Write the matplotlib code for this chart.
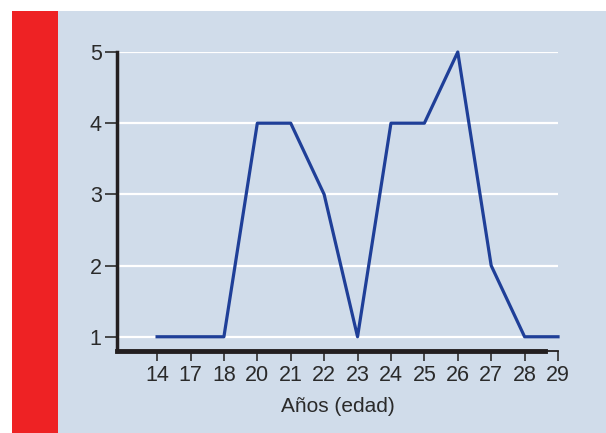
import matplotlib
matplotlib.use("Agg")
import matplotlib.pyplot as plt
from matplotlib.patches import Rectangle

# ages (categorical) and counts
edades = ["14", "17", "18", "20", "21", "22", "23", "24", "25", "26", "27", "28", "29"]
valores = [1, 1, 1, 4, 4, 3, 1, 4, 4, 5, 2, 1, 1]
yticks = [1, 2, 3, 4, 5]

plt.rcParams['font.family'] = ['Liberation Sans', 'DejaVu Sans']

fig = plt.figure(figsize=(6.06, 4.33), dpi=100)
fig.patch.set_facecolor("white")

# background panel and red strip, in a separate axes behind everything
bg = fig.add_axes([0, 0, 1, 1], zorder=0)
bg.set_xlim(0, 606)
bg.set_ylim(0, 433)
bg.axis("off")
bg.add_patch(Rectangle((12, 0), 594, 422, facecolor="#d0dcea", edgecolor="none"))
bg.add_patch(Rectangle((12, 0), 46, 422, facecolor="#ee2224", edgecolor="none"))

ax = fig.add_axes([117/606, 82/433, 441/606, 299/433], zorder=1)
ax.set_facecolor("none")

x = list(range(len(edades)))
for yv in yticks:
    ax.axhline(yv, color="white", lw=1.6, zorder=1)
ax.plot(x, valores, color="#1f3f98", lw=2.3, zorder=3, clip_on=False)

ax.set_xlim(-1.2, len(edades) - 1)
ax.set_ylim(0.8, 5)
ax.set_xticks(x)
ax.set_xticklabels(edades)
ax.set_yticks(yticks)

for s in ["top", "right"]:
    ax.spines[s].set_visible(False)
ax.spines["left"].set_linewidth(2.5)
ax.spines["left"].set_color("#231f20")
ax.spines["bottom"].set_linewidth(3.5)
ax.spines["bottom"].set_color("#231f20")
ax.spines["bottom"].set_bounds(-1.2, 11.6)
ax.plot([11.6, 12], [0.8, 0.8], color="#231f20", lw=1.3, clip_on=False, zorder=4)

ax.tick_params(axis="x", direction="out", length=7, width=1.3, color="#3a3a3a",
               pad=3, labelsize=15.5, labelcolor="#2a2a2a")
ax.tick_params(axis="y", direction="out", length=9, width=1.3, color="#3a3a3a",
               pad=2, labelsize=15.5, labelcolor="#2a2a2a")

ax.set_xlabel("Años (edad)", fontsize=15, color="#2a2a2a", labelpad=8)

fig.savefig("out.png", dpi=100)
